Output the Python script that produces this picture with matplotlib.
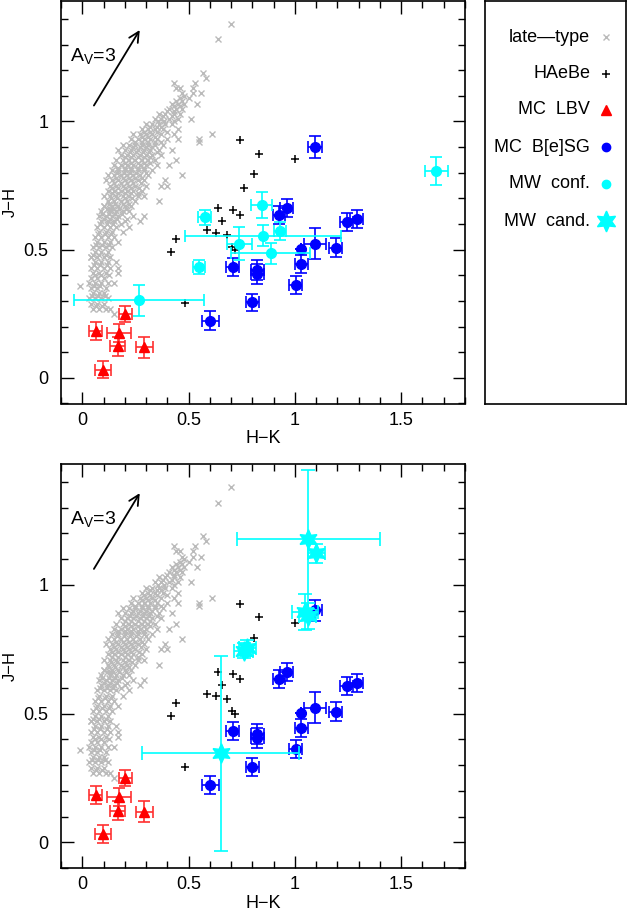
import numpy as np
import matplotlib
matplotlib.use('Agg')
import matplotlib.pyplot as plt
from matplotlib.ticker import MultipleLocator

plt.rcParams['font.family'] = ['Liberation Sans', 'DejaVu Sans']
plt.rcParams['mathtext.default'] = 'regular'

# late-type stars (gray crosses), read row by row off the cloud
late_rows = {
    0.27: [0.05, 0.08, 0.11, 0.13],
    0.29: [0.04, 0.07, 0.10],
    0.31: [0.03, 0.06, 0.09, 0.12],
    0.33: [0.05, 0.08, 0.10],
    0.35: [0.04, 0.07, 0.11],
    0.37: [0.03, 0.06, 0.09, 0.12, 0.15],
    0.39: [0.04, 0.07, 0.10],
    0.41: [0.05, 0.08, 0.11, 0.17],
    0.43: [0.04, 0.07, 0.10, 0.13],
    0.45: [0.06, 0.09, 0.12, 0.16],
    0.47: [0.04, 0.07, 0.10, 0.13],
    0.49: [0.06, 0.09, 0.12],
    0.51: [0.05, 0.08, 0.11, 0.14],
    0.53: [0.07, 0.10, 0.13, 0.17],
    0.55: [0.06, 0.09, 0.12, 0.15],
    0.57: [0.08, 0.11, 0.14, 0.19],
    0.59: [0.07, 0.10, 0.13, 0.16, 0.22],
    0.61: [0.09, 0.12, 0.15, 0.20, 0.27],
    0.63: [0.08, 0.11, 0.14, 0.17, 0.24, 0.29],
    0.65: [0.09, 0.13, 0.16, 0.19, 0.22],
    0.67: [0.10, 0.14, 0.17, 0.20, 0.23],
    0.69: [0.12, 0.15, 0.18, 0.21, 0.25, 0.36],
    0.71: [0.10, 0.13, 0.16, 0.19, 0.22, 0.26, 0.29],
    0.73: [0.12, 0.15, 0.18, 0.21, 0.24, 0.28],
    0.75: [0.13, 0.16, 0.19, 0.22, 0.25, 0.30, 0.37, 0.40],
    0.77: [0.11, 0.14, 0.17, 0.20, 0.23, 0.26, 0.29, 0.39],
    0.79: [0.12, 0.15, 0.18, 0.21, 0.24, 0.27, 0.31, 0.47],
    0.81: [0.14, 0.17, 0.20, 0.23, 0.26, 0.29, 0.33],
    0.83: [0.15, 0.18, 0.21, 0.24, 0.27, 0.30, 0.35, 0.41],
    0.85: [0.16, 0.19, 0.22, 0.25, 0.28, 0.31, 0.34, 0.44],
    0.87: [0.18, 0.21, 0.24, 0.27, 0.30, 0.33, 0.37],
    0.89: [0.17, 0.20, 0.23, 0.26, 0.29, 0.32, 0.36, 0.42],
    0.91: [0.19, 0.22, 0.25, 0.28, 0.31, 0.34, 0.38],
    0.93: [0.23, 0.26, 0.29, 0.32, 0.35, 0.40, 0.45, 0.55],
    0.95: [0.24, 0.27, 0.30, 0.33, 0.37, 0.43, 0.61],
    0.97: [0.28, 0.31, 0.34, 0.38, 0.45],
    0.99: [0.30, 0.33, 0.36, 0.39, 0.42],
    1.01: [0.34, 0.37, 0.41, 0.45, 0.51],
    1.03: [0.36, 0.39, 0.43, 0.46],
    1.05: [0.41, 0.44, 0.47],
    1.07: [0.42, 0.45, 0.48, 0.54],
    1.09: [0.46, 0.50],
    1.11: [0.47, 0.52, 0.56],
    1.13: [0.44, 0.46, 0.52],
    1.15: [0.43, 0.53],
    1.17: [0.58],
    1.19: [0.57],
    1.32: [0.64],
    1.38: [0.70],
}
# second, offset set of rows filling the dense core of the cloud
late_rows_b = {
    0.28: [0.065, 0.095],
    0.32: [0.045, 0.075, 0.105],
    0.36: [0.055, 0.085],
    0.40: [0.06, 0.09, 0.125],
    0.44: [0.055, 0.085, 0.115],
    0.48: [0.05, 0.08, 0.11],
    0.52: [0.065, 0.095, 0.125],
    0.56: [0.075, 0.105, 0.135],
    0.60: [0.085, 0.115, 0.145, 0.18],
    0.62: [0.10, 0.13, 0.165, 0.21],
    0.64: [0.095, 0.125, 0.155, 0.185],
    0.66: [0.115, 0.145, 0.175, 0.205],
    0.68: [0.125, 0.155, 0.19, 0.22],
    0.70: [0.135, 0.165, 0.20, 0.235],
    0.72: [0.14, 0.17, 0.20, 0.23, 0.26],
    0.74: [0.14, 0.17, 0.20, 0.23, 0.265],
    0.76: [0.15, 0.18, 0.21, 0.24, 0.275],
    0.78: [0.16, 0.19, 0.22, 0.25, 0.28],
    0.80: [0.165, 0.195, 0.225, 0.255, 0.30],
    0.82: [0.17, 0.20, 0.23, 0.26, 0.29],
    0.84: [0.20, 0.23, 0.26, 0.29, 0.32],
    0.86: [0.20, 0.23, 0.26, 0.29, 0.32],
    0.88: [0.225, 0.255, 0.285, 0.315, 0.35],
    0.90: [0.24, 0.27, 0.30, 0.33],
    0.92: [0.25, 0.28, 0.31, 0.34, 0.37],
    0.94: [0.28, 0.31, 0.34],
    0.96: [0.29, 0.32, 0.35, 0.40],
    0.98: [0.32, 0.35, 0.37],
    1.00: [0.355, 0.385, 0.43],
    1.02: [0.38, 0.42],
    1.04: [0.40, 0.43],
    1.06: [0.43, 0.46],
    1.08: [0.44, 0.47],
    1.10: [0.48],
}
late_extra_x = [-0.01, 0.04, 0.55, 0.17, 0.10, 0.13, 0.15]
late_extra_y = [0.36, 0.47, 0.92, 0.43, 0.67, 0.66, 0.25]

# HAeBe
hae_x = [0.742, 0.831, 1.001, 0.808, 0.762, 0.640, 0.710, 0.742, 0.657,
         0.585, 0.629, 0.679, 0.706, 0.718, 0.484, 0.441, 0.416]
hae_y = [0.927, 0.875, 0.852, 0.795, 0.740, 0.661, 0.655, 0.634, 0.613,
         0.577, 0.567, 0.556, 0.512, 0.497, 0.292, 0.542, 0.489]

# MC LBV
lbv_x = [0.202, 0.064, 0.174, 0.166, 0.292, 0.097]
lbv_y = [0.249, 0.184, 0.175, 0.123, 0.119, 0.032]
lbv_xe = [0.031, 0.031, 0.057, 0.035, 0.039, 0.037]
lbv_ye = [0.031, 0.035, 0.035, 0.036, 0.041, 0.034]

# MC B[e]SG
bsg_x = [1.094, 0.961, 0.925, 1.243, 1.290, 1.094, 1.031, 1.192, 1.031,
         0.707, 0.823, 0.823, 1.003, 0.800, 0.601]
bsg_y = [0.901, 0.661, 0.635, 0.609, 0.620, 0.523, 0.502, 0.508, 0.443,
         0.434, 0.421, 0.406, 0.363, 0.294, 0.223]
bsg_xe = [0.033, 0.03, 0.03, 0.03, 0.03, 0.05, 0.0, 0.03, 0.03,
          0.03, 0.03, 0.03, 0.03, 0.03, 0.04]
bsg_ye = [0.042, 0.035, 0.035, 0.035, 0.035, 0.06, 0.0, 0.036, 0.035,
          0.035, 0.04, 0.04, 0.035, 0.035, 0.036]

# MW confirmed
mwc_x = [0.268, 0.549, 0.575, 0.739, 0.844, 0.851, 0.930, 0.886, 1.665]
mwc_y = [0.302, 0.433, 0.626, 0.524, 0.674, 0.555, 0.573, 0.486, 0.808]
mwc_xe = [0.305, 0.027, 0.029, 0.06, 0.05, 0.367, 0.03, 0.186, 0.053]
mwc_ye = [0.062, 0.027, 0.03, 0.064, 0.05, 0.04, 0.035, 0.04, 0.055]

# MW candidates
cand_x = [1.063, 1.100, 1.047, 1.060, 0.760, 0.775, 0.651]
cand_y = [1.178, 1.123, 0.895, 0.880, 0.745, 0.755, 0.345]
cand_xe = [0.337, 0.04, 0.06, 0.04, 0.045, 0.04, 0.368]
cand_ye = [0.27, 0.037, 0.07, 0.05, 0.03, 0.03, 0.38]

late_x = []
late_y = []
for rows in (late_rows, late_rows_b):
    for yy, xs in rows.items():
        for xx in xs:
            late_x.append(xx)
            late_y.append(yy)
late_x += late_extra_x
late_y += late_extra_y

GRAY = '#bababa'
CYAN = '#00ffff'
BLUE = '#0000ff'
RED = '#ff0000'

fig = plt.figure(figsize=(6.27, 9.14), dpi=100)
W, H = 627.0, 914.0
ax1 = fig.add_axes([61 / W, 1 - 403.5 / H, 404 / W, 402.5 / H])
ax2 = fig.add_axes([61 / W, 1 - 868 / H, 404 / W, 404 / H])
leg = fig.add_axes([485 / W, 1 - 403.5 / H, 141 / W, 402.5 / H])


def draw_panel(ax, cand):
    ax.plot(late_x, late_y, 'x', color=GRAY, ms=4.5, mew=1.0, zorder=1)
    ax.plot(hae_x, hae_y, '+', color='black', ms=6, mew=1.1, zorder=2)
    ax.errorbar(lbv_x, lbv_y, xerr=lbv_xe, yerr=lbv_ye, fmt='^', color=RED,
                ecolor='#ff3030', ms=7, capsize=4.5, elinewidth=1.2,
                capthick=1.2, zorder=3)
    ax.errorbar(bsg_x, bsg_y, xerr=bsg_xe, yerr=bsg_ye, fmt='o', color=BLUE,
                ms=7, capsize=4.5, elinewidth=1.2, capthick=1.2, zorder=3)
    if cand:
        ax.errorbar(cand_x, cand_y, xerr=cand_xe, yerr=cand_ye,
                    fmt='none', ecolor=CYAN, capsize=5, elinewidth=1.2,
                    capthick=1.2, zorder=4)
        ax.plot(cand_x, cand_y, marker=(6, 1, 0), ls='none', color=CYAN,
                ms=14, zorder=5)
    else:
        ax.errorbar(mwc_x, mwc_y, xerr=mwc_xe, yerr=mwc_ye, fmt='o',
                    color=CYAN, ms=7, capsize=4.5, elinewidth=1.2,
                    capthick=1.2, zorder=4)

    ax.annotate('', xy=(0.277, 1.366), xytext=(0.048, 1.053),
                arrowprops=dict(arrowstyle='->', color='black', lw=1.3,
                                mutation_scale=18))
    ax.text(-0.058, 1.256, r'A$_V$=3', fontsize=14, va='center', ha='left')

    ax.set_xlim(-0.1, 1.8)
    ax.set_ylim(-0.1, 1.47)
    ax.xaxis.set_minor_locator(MultipleLocator(0.1))
    ax.yaxis.set_minor_locator(MultipleLocator(0.1))
    ax.set_xticks([0, 0.5, 1, 1.5])
    ax.set_xticklabels(['0', '0.5', '1', '1.5'])
    ax.set_yticks([0, 0.5, 1])
    ax.set_yticklabels(['0', '0.5', '1'])
    ax.tick_params(which='both', direction='in', top=True, right=True,
                   labelsize=13, width=1.0)
    ax.tick_params(which='major', length=9, pad=6)
    ax.tick_params(which='minor', length=5)
    ax.tick_params(axis='y', which='major', pad=9)
    for s in ax.spines.values():
        s.set_linewidth(1.2)
    ax.set_xlabel('H\u2212K', fontsize=13, labelpad=1)
    ax.set_ylabel('J\u2212H', fontsize=12)
    ax.yaxis.set_label_coords(-0.108, 0.5)


draw_panel(ax1, False)
draw_panel(ax2, True)

# legend box
leg.set_xticks([])
leg.set_yticks([])
leg.set_xlim(0, 1)
leg.set_ylim(0, 1)
for s in leg.spines.values():
    s.set_linewidth(1.2)
names = ['late\u2014type', 'HAeBe', 'MC  LBV', 'MC  B[e]SG', 'MW  conf.', 'MW  cand.']
row_px = [37, 74, 110, 147, 184, 221]
for name, py in zip(names, row_px):
    yf = 1 - (py - 1) / 402.5
    leg.text(0.745, yf, name, ha='right', va='center', fontsize=13)
mx = 0.86
leg.plot([mx], [1 - 36 / 402.5], 'x', color=GRAY, ms=4, mew=1.0)
leg.plot([mx], [1 - 73 / 402.5], '+', color='black', ms=6, mew=1.1)
leg.plot([mx], [1 - 109 / 402.5], '^', color=RED, ms=7)
leg.plot([mx], [1 - 146 / 402.5], 'o', color=BLUE, ms=6)
leg.plot([mx], [1 - 183 / 402.5], 'o', color=CYAN, ms=6)
leg.plot([mx], [1 - 220 / 402.5], marker=(6, 1, 0), color=CYAN, ms=15)

fig.savefig('out.png', dpi=100)
